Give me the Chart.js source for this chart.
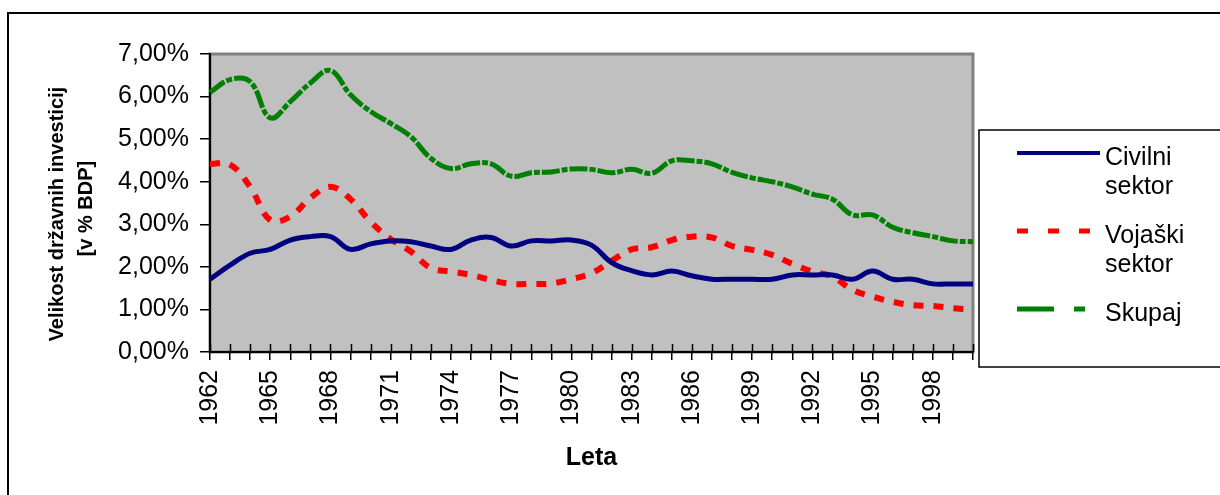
<!DOCTYPE html>
<html>
<head>
<meta charset="utf-8">
<script src="https://cdn.jsdelivr.net/npm/chart.js@4"></script>
<style>
  body { margin: 0; background: #fff; }
  canvas { display: block; }
</style>
</head>
<body>
<canvas id="myChart" width="1220" height="495"></canvas>
<script>
// Leta (x axis categories)
const years = ["1962","1963","1964","1965","1966","1967","1968","1969","1970","1971",
  "1972","1973","1974","1975","1976","1977","1978","1979","1980","1981",
  "1982","1983","1984","1985","1986","1987","1988","1989","1990","1991",
  "1992","1993","1994","1995","1996","1997","1998","1999","2000"];

// values in % BDP
const civilni = [1.71,2.04,2.32,2.41,2.63,2.71,2.71,2.41,2.54,2.61,2.59,2.49,2.41,
  2.63,2.69,2.49,2.61,2.61,2.63,2.51,2.10,1.91,1.81,1.90,1.79,
  1.71,1.71,1.71,1.71,1.81,1.81,1.81,1.71,1.90,1.71,1.71,1.60,1.60,1.60];
const vojaski = [4.42,4.40,3.88,3.10,3.18,3.62,3.88,3.59,3.06,2.65,2.36,1.97,1.89,
  1.81,1.69,1.60,1.60,1.61,1.71,1.85,2.14,2.41,2.46,2.63,2.71,
  2.69,2.49,2.40,2.28,2.07,1.89,1.77,1.46,1.30,1.18,1.10,1.08,1.03,0.99];
const skupaj = [6.10,6.40,6.35,5.50,5.88,6.32,6.61,6.04,5.65,5.37,5.06,4.55,4.31,
  4.42,4.42,4.13,4.21,4.23,4.30,4.29,4.21,4.29,4.20,4.49,4.49,
  4.42,4.22,4.09,4.00,3.88,3.71,3.59,3.22,3.22,2.93,2.80,2.71,2.61,2.59];

const legendItems = [
  { lines: ["Civilni", "sektor"], color: "#000080", dash: [], width: 4 },
  { lines: ["Vojaški", "sektor"], color: "#ff0000", dash: [11, 20], width: 5 },
  { lines: ["Skupaj"], color: "#008000", dash: [37, 20, 11, 20], width: 5 },
];

Chart.defaults.font.family = "'Liberation Sans', Arial, sans-serif";
Chart.defaults.color = "#000";

// frame, grey plot area, cross ticks and the legend box
const excelFrame = {
  id: "excelFrame",
  beforeDraw(chart) {
    const { ctx, chartArea: a } = chart;
    ctx.save();
    ctx.fillStyle = "#fff";
    ctx.fillRect(0, 0, chart.width, chart.height);
    ctx.strokeStyle = "#000";
    ctx.lineWidth = 2;
    ctx.strokeRect(8, 13, chart.width + 20, chart.height + 20);
    ctx.fillStyle = "#c0c0c0";
    ctx.fillRect(a.left, a.top, a.right - a.left, a.bottom - a.top);
    ctx.strokeStyle = "#808080";
    ctx.lineWidth = 3;
    ctx.strokeRect(a.left, a.top, a.right - a.left, a.bottom - a.top);
    ctx.restore();
  },
  afterDraw(chart) {
    const { ctx, chartArea: a } = chart;
    const xs = chart.scales.x;
    ctx.save();
    // inner halves of the cross tick marks
    ctx.strokeStyle = "#000";
    ctx.lineWidth = 1.5;
    ctx.beginPath();
    for (let i = 0; i < years.length; i++) {
      const px = Math.round(xs.getPixelForTick(i)) + 0.5;
      ctx.moveTo(px, a.bottom - 8);
      ctx.lineTo(px, a.bottom);
    }
    ctx.stroke();

    // legend
    const lx = 979, ly = 130;
    ctx.fillStyle = "#fff";
    ctx.fillRect(lx, ly, chart.width, 237);
    ctx.strokeStyle = "#000";
    ctx.lineWidth = 1.5;
    ctx.strokeRect(lx, ly, chart.width, 237);
    ctx.font = "25px 'Liberation Sans', Arial, sans-serif";
    ctx.textBaseline = "alphabetic";
    let y = ly + 35;
    legendItems.forEach((it) => {
      ctx.strokeStyle = it.color;
      ctx.lineWidth = it.width;
      ctx.setLineDash(it.dash);
      ctx.lineCap = "butt";
      ctx.beginPath();
      ctx.moveTo(lx + 38, y - 12);
      ctx.lineTo(lx + 121, y - 12);
      ctx.stroke();
      ctx.setLineDash([]);
      ctx.fillStyle = "#000";
      it.lines.forEach((t, k) => ctx.fillText(t, lx + 126, y + k * 29));
      y += 78;
    });
    ctx.restore();
  },
};

const ctx = document.getElementById("myChart").getContext("2d");

const chart = new Chart(ctx, {
  type: "line",
  data: {
    labels: years,
    datasets: [
      {
        label: "Civilni sektor",
        data: civilni,
        borderColor: "#000080",
        borderWidth: 5,
        pointRadius: 0,
        tension: 0.4,
      },
      {
        label: "Vojaški sektor",
        data: vojaski,
        borderColor: "#ff0000",
        borderWidth: 6,
        borderDash: [10, 10],
        pointRadius: 0,
        tension: 0.4,
      },
      {
        label: "Skupaj",
        data: skupaj,
        borderColor: "#008000",
        borderWidth: 5,
        borderDash: [18, 2, 6, 2],
        pointRadius: 0,
        tension: 0.4,
      },
    ],
  },
  options: {
    responsive: false,
    animation: false,
    layout: { padding: { top: 54, right: 247, left: 0, bottom: 0 } },
    plugins: {
      legend: { display: false },
      tooltip: { enabled: false },
    },
    scales: {
      x: {
        afterFit: (s) => { s.height = 143; },
        border: { color: "#000", width: 2 },
        grid: { drawOnChartArea: false, drawTicks: true, tickLength: 8, color: "#000", lineWidth: 1.5, offset: false },
        offset: false,
        ticks: {
          autoSkip: false,
          maxRotation: 90,
          minRotation: 90,
          padding: 10,
          font: { size: 25 },
          callback: (v, i) => (i % 3 === 0 ? years[i] : ""),
        },
        title: {
          display: true,
          text: "Leta",
          font: { size: 25, weight: "bold" },
          padding: { top: 0, bottom: 22 },
        },
      },
      y: {
        min: 0,
        max: 7,
        afterFit: (s) => { s.width = 210; },
        border: { color: "#000", width: 2 },
        grid: { drawOnChartArea: false, drawTicks: true, tickLength: 10, color: "#000", lineWidth: 1.5 },
        ticks: {
          stepSize: 1,
          padding: 11,
          font: { size: 25 },
          callback: (v) => v.toFixed(2).replace(".", ",") + "%",
        },
        title: {
          display: true,
          // trailing spaces nudge the rotated lines down like in the original
          text: ["Velikost državnih investicij    ", "[v % BDP]  "],
          font: { size: 20, weight: "bold", lineHeight: 1.45 },
          padding: { top: 43, bottom: 0 },
        },
      },
    },
  },
  plugins: [excelFrame],
});
</script>
</body>
</html>
